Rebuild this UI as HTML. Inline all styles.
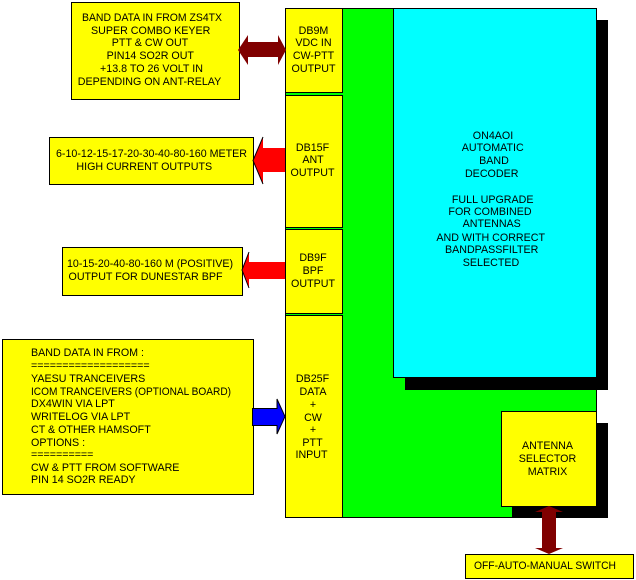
<!DOCTYPE html>
<html><head><meta charset="utf-8"><style>
html,body{margin:0;padding:0;background:#fff;}
svg{display:block;}
text{font-family:"Liberation Sans",Arial,sans-serif;font-size:10.7px;fill:#000;}
</style></head><body>
<svg width="636" height="580" viewBox="0 0 636 580" xmlns="http://www.w3.org/2000/svg" shape-rendering="crispEdges">
<!-- green panel -->
<rect x="285.5" y="8.5" width="311" height="509" fill="#00ff00" stroke="#000"/>
<!-- shadows -->
<rect x="405" y="20" width="203" height="370" fill="#000"/>
<rect x="512" y="423" width="96" height="95" fill="#000"/>
<!-- cyan -->
<rect x="393.5" y="8.5" width="203" height="369" fill="#00ffff" stroke="#000"/>
<!-- DB boxes -->
<rect x="285.5" y="8.5" width="57" height="84" fill="#ffff00" stroke="#000"/>
<rect x="285.5" y="95.5" width="57" height="132" fill="#ffff00" stroke="#000"/>
<rect x="285.5" y="229.5" width="57" height="84" fill="#ffff00" stroke="#000"/>
<rect x="285.5" y="315.5" width="57" height="202" fill="#ffff00" stroke="#000"/>
<!-- antenna selector -->
<rect x="501.5" y="411.5" width="95" height="95" fill="#ffff00" stroke="#000"/>
<!-- text boxes -->
<rect x="71.5" y="2.5" width="168" height="97" fill="#ffff00" stroke="#000"/>
<rect x="49.5" y="137.5" width="204" height="47" fill="#ffff00" stroke="#000"/>
<rect x="62.5" y="247.5" width="180" height="48" fill="#ffff00" stroke="#000"/>
<rect x="2.5" y="339.5" width="251" height="155" fill="#ffff00" stroke="#000"/>
<rect x="465.5" y="554.5" width="168" height="24" fill="#ffff00" stroke="#000"/>

<!-- arrows -->
<g shape-rendering="auto">
<polygon points="238,50 248,35 248,42 278,42 278,35 286,50 278,65 278,57 248,57 248,65" fill="#800000"/>
<polygon points="253,160.5 263,137 263,148 285,148 285,172 263,172 263,184" fill="#ff0000"/>
<polyline points="263,137 253,160.5 263,184" fill="none" stroke="#000" stroke-width="1"/>
<polygon points="242,270 249,252 249,262 285,262 285,279 249,279 249,288" fill="#ff0000"/>
<polyline points="249,252 242,270 249,288" fill="none" stroke="#000" stroke-width="1"/>
<polygon points="252.5,408.5 277,408.5 277,399 285,416.5 277,434 277,425.5 252.5,425.5" fill="#0000ff" stroke="#000" stroke-width="1"/>
<polygon points="549,506 563,512 556,512 556,548 563,548 549,554 535,548 542,548 542,512 535,512" fill="#800000"/>
</g>

<!-- box1 text -->
<g text-anchor="middle">
<text x="152" y="21" textLength="140" lengthAdjust="spacingAndGlyphs">BAND DATA IN FROM ZS4TX</text>
<text x="150.7" y="34">SUPER COMBO KEYER</text>
<text x="150" y="46">PTT &amp; CW OUT</text>
<text x="150.3" y="59">PIN14 SO2R OUT</text>
<text x="151.5" y="72">+13.8 TO 26 VOLT IN</text>
<text x="149.5" y="85">DEPENDING ON ANT-RELAY</text>

<text x="313.5" y="34">DB9M</text>
<text x="313.5" y="46">VDC IN</text>
<text x="313.5" y="59">CW-PTT</text>
<text x="313.5" y="72">OUTPUT</text>

<text x="151.5" y="157" textLength="191" lengthAdjust="spacingAndGlyphs">6-10-12-15-17-20-30-40-80-160 METER</text>
<text x="144.3" y="170">HIGH CURRENT OUTPUTS</text>

<text x="312.5" y="151">DB15F</text>
<text x="313" y="163">ANT</text>
<text x="312.5" y="176">OUTPUT</text>

<text x="150" y="267" textLength="166" lengthAdjust="spacingAndGlyphs">10-15-20-40-80-160 M (POSITIVE)</text>
<text x="145.5" y="280">OUTPUT FOR DUNESTAR BPF</text>

<text x="313" y="261">DB9F</text>
<text x="313" y="274">BPF</text>
<text x="313" y="287">OUTPUT</text>

<text x="312.5" y="382">DB25F</text>
<text x="313" y="395">DATA</text>
<text x="313" y="408">+</text>
<text x="313" y="421">CW</text>
<text x="313" y="433">+</text>
<text x="312.5" y="446">PTT</text>
<text x="311.5" y="458">INPUT</text>

<text x="493" y="139">ON4AOI</text>
<text x="492.7" y="151">AUTOMATIC</text>
<text x="494" y="164">BAND</text>
<text x="491.7" y="177">DECODER</text>
<text x="492.7" y="203">FULL UPGRADE</text>
<text x="490" y="215">FOR COMBINED</text>
<text x="491.7" y="227">ANTENNAS</text>
<text x="490.7" y="241">AND  WITH CORRECT</text>
<text x="491.7" y="253">BANDPASSFILTER</text>
<text x="491" y="266">SELECTED</text>

<text x="547.5" y="449">ANTENNA</text>
<text x="547.5" y="462">SELECTOR</text>
<text x="547.5" y="475">MATRIX</text>
</g>

<g text-anchor="start">
<text x="31" y="356">BAND DATA IN FROM :</text>
<text x="31" y="369">===================</text>
<text x="31" y="382">YAESU TRANCEIVERS</text>
<text x="31" y="395" textLength="200" lengthAdjust="spacingAndGlyphs">ICOM TRANCEIVERS (OPTIONAL BOARD)</text>
<text x="31" y="407">DX4WIN VIA LPT</text>
<text x="31" y="420">WRITELOG VIA LPT</text>
<text x="31" y="433">CT &amp; OTHER HAMSOFT</text>
<text x="31" y="446">OPTIONS :</text>
<text x="31" y="458">==========</text>
<text x="31" y="471">CW &amp; PTT FROM SOFTWARE</text>
<text x="31" y="483">PIN 14 SO2R READY</text>

<text x="474" y="569" textLength="142" lengthAdjust="spacingAndGlyphs">OFF-AUTO-MANUAL SWITCH</text>
</g>
</svg>
</body></html>
